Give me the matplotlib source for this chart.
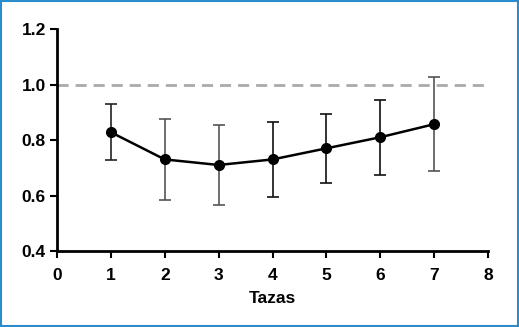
import numpy as np
import matplotlib.pyplot as plt
from matplotlib.patches import Rectangle

plt.rcParams['font.family'] = ['Liberation Sans', 'DejaVu Sans']
plt.rcParams['font.weight'] = 'bold'

# data
tazas = [1, 2, 3, 4, 5, 6, 7]
media = [0.828, 0.730, 0.710, 0.730, 0.770, 0.810, 0.857]
upper = [0.928, 0.875, 0.855, 0.865, 0.895, 0.945, 1.027]
lower = [0.728, 0.585, 0.565, 0.595, 0.645, 0.675, 0.688]
bar_colors = ['#222222', '#555555', '#555555', '#111111', '#111111', '#111111', '#555555']
x_ticks = [0, 1, 2, 3, 4, 5, 6, 7, 8]
y_ticks = [0.4, 0.6, 0.8, 1.0, 1.2]

fig = plt.figure(figsize=(5.19, 3.27), dpi=100)
ax = fig.add_axes([0.1098, 0.2324, 0.8306, 0.6789])

# reference line at 1.0
ax.plot([0, 8], [1.0, 1.0], color='#aaaaaa', linestyle=(0, (4, 2.5)), linewidth=2, zorder=1)

# error bars, one by one for their colours
for xi, lo, hi, c in zip(tazas, lower, upper, bar_colors):
    ax.errorbar([xi], [(lo + hi) / 2], yerr=[[(hi - lo) / 2], [(hi - lo) / 2]],
                fmt='none', ecolor=c, elinewidth=1.2, capsize=4, capthick=1.2, zorder=2)

ax.plot(tazas, media, color='black', linewidth=1.8, marker='o', markersize=7, zorder=3)

ax.set_xlim(0, 8)
ax.set_ylim(0.4, 1.2)
ax.set_xticks(x_ticks)
ax.set_yticks(y_ticks)
ax.set_yticklabels(['{0:.1f}'.format(v) for v in y_ticks])
ax.tick_params(width=1.5, length=5, labelsize=12.5)
ax.tick_params(axis='x', pad=7)
ax.tick_params(axis='y', pad=3)
for lab in ax.get_xticklabels() + ax.get_yticklabels():
    lab.set_fontweight('bold')

for s in ['top', 'right']:
    ax.spines[s].set_visible(False)
for s in ['left', 'bottom']:
    ax.spines[s].set_linewidth(2)
ax.spines['left'].set_bounds(0.4, 1.2)

ax.set_xlabel('Tazas', fontsize=12.5, fontweight='bold', labelpad=6)

# blue frame round the figure
fig.patches.append(Rectangle((0.002, 0.003), 0.996, 0.994, transform=fig.transFigure,
                             fill=False, edgecolor='#2a8ccd', linewidth=1.5))

fig.savefig('out.png', dpi=100)
